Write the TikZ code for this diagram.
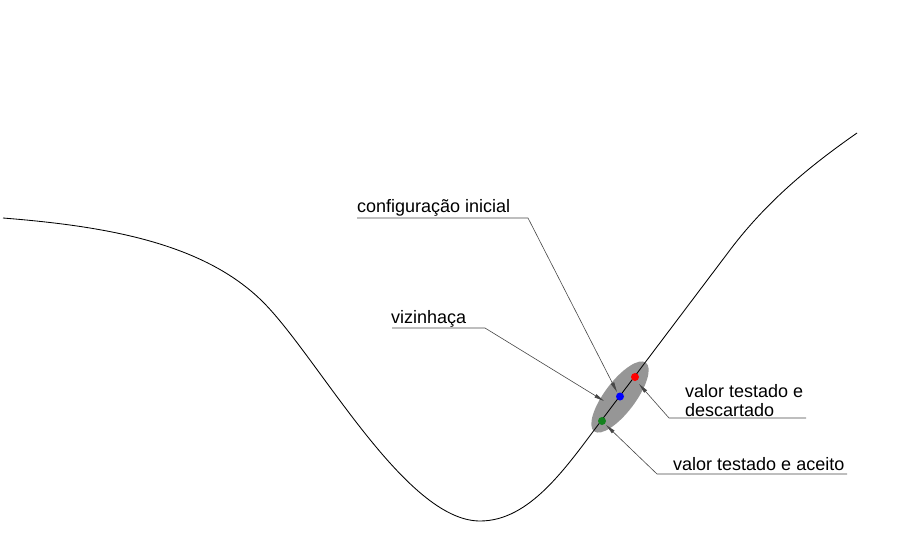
\documentclass[tikz,border=0pt]{standalone}
\usepackage{fontspec}
\setmainfont{Liberation Sans}
\usetikzlibrary{shapes.geometric,arrows.meta}
\definecolor{ellgray}{RGB}{150,150,150}
\definecolor{leadgray}{RGB}{70,70,70}
\definecolor{dotgreen}{RGB}{20,130,30}
\tikzset{
  lbl/.style={inner sep=0pt, anchor=base west, font=\fontsize{18}{21}\selectfont},
  leader/.style={draw=leadgray, line width=0.6pt, -{Triangle[length=10pt,width=3.6pt]}},
  dotn/.style={circle, inner sep=0pt, minimum size=8pt},
  curve/.style={draw=black, line width=0.85pt}
}
\begin{document}
\begin{tikzpicture}[x=1pt,y=-1pt]
\useasboundingbox (0,0) rectangle (911,551);
% neighbourhood ellipse
\node[ellipse, fill=ellgray, minimum width=86pt, minimum height=31pt, inner sep=0pt, rotate=53] (ell) at (620,397) {};
% objective curve
\coordinate (k0) at (3,218);
\coordinate (k1) at (263,302);
\coordinate (k2) at (480,521);
\coordinate (k3) at (601,421);
\coordinate (k4) at (730,250);
\coordinate (k5) at (857,133);
\draw[curve] (k0) .. controls (103,226) and (203,242) .. (k1)
  .. controls (318,357) and (405,521) .. (k2)
  .. controls (530,521) and (566,467.4) .. (k3)
  -- (k4)
  .. controls (770,197) and (817,161) .. (k5);
% points
\node[dotn, fill=dotgreen] (green) at (602,421) {};
\node[dotn, fill=blue] (blue) at (620,396.5) {};
\node[dotn, fill=red] (red) at (635,377) {};
% labels
\node[lbl] (tconf) at (357,212) {configuração inicial};
\node[lbl] (tviz) at (391,323) {vizinhaça};
\node[lbl] (tdesc1) at (685,397) {valor testado e};
\node[lbl] (tdesc2) at (685,416) {descartado};
\node[lbl] (tacc) at (673,470) {valor testado e aceito};
% leader line corners and tips
\coordinate (c1a) at (357,218); \coordinate (c1b) at (528,218); \coordinate (c1t) at (617,392);
\coordinate (c2a) at (392,328); \coordinate (c2b) at (485,328); \coordinate (c2t) at (604,401);
\coordinate (c3a) at (806,418); \coordinate (c3b) at (669,418); \coordinate (c3t) at (639,384);
\coordinate (c4a) at (847,474); \coordinate (c4b) at (657,474); \coordinate (c4t) at (606,425);
\draw[leader] (c1a) -- (c1b) -- (c1t);
\draw[leader] (c2a) -- (c2b) -- (c2t);
\draw[leader] (c3a) -- (c3b) -- (c3t);
\draw[leader] (c4a) -- (c4b) -- (c4t);
\end{tikzpicture}
\end{document}
